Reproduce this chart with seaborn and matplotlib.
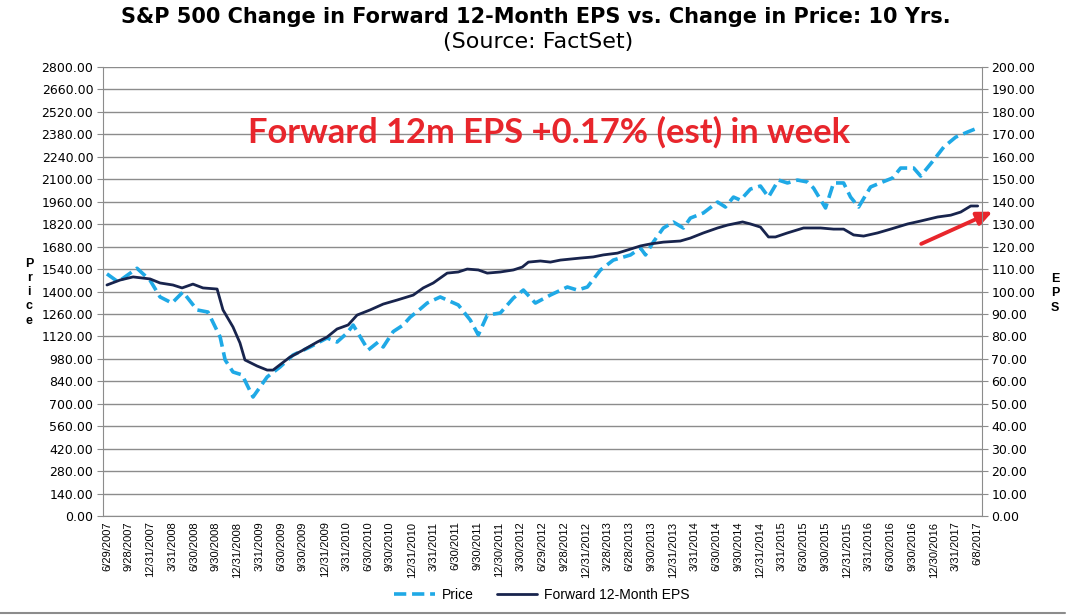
import matplotlib
matplotlib.use("Agg")
import matplotlib.pyplot as plt
import seaborn as sns
import numpy as np
import pandas as pd
from matplotlib.lines import Line2D
from matplotlib.ticker import FuncFormatter

# quarter-end labels on the category axis (one per quarter, equally spaced)
quarter_labels = [
    "6/29/2007", "9/28/2007", "12/31/2007", "3/31/2008", "6/30/2008", "9/30/2008",
    "12/31/2008", "3/31/2009", "6/30/2009", "9/30/2009", "12/31/2009", "3/31/2010",
    "6/30/2010", "9/30/2010", "12/31/2010", "3/31/2011", "6/30/2011", "9/30/2011",
    "12/30/2011", "3/30/2012", "6/29/2012", "9/28/2012", "12/31/2012", "3/28/2013",
    "6/28/2013", "9/30/2013", "12/31/2013", "3/31/2014", "6/30/2014", "9/30/2014",
    "12/31/2014", "3/31/2015", "6/30/2015", "9/30/2015", "12/31/2015", "3/31/2016",
    "6/30/2016", "9/30/2016", "12/30/2016", "3/31/2017", "6/8/2017",
]

# time in quarters since 6/29/2007, and S&P 500 price
price_t = [0.0, 0.51, 1.38, 1.98, 2.44, 2.99, 3.49, 4.14, 4.64, 5.20, 5.43, 5.79,
           6.21, 6.71, 7.36, 7.95, 8.55, 9.33, 10.11, 10.57, 11.03, 11.31, 12.00,
           12.46, 12.69, 13.15, 13.60, 13.93, 14.30, 14.71, 15.31, 16.14, 16.69,
           17.06, 17.47, 18.07, 18.67, 19.13, 19.68, 20.37, 21.15, 21.61, 22.07,
           22.67, 23.26, 24.05, 24.51, 24.74, 25.10, 25.56, 26.02, 26.48, 26.80,
           27.40, 28.05, 28.41, 28.78, 29.10, 29.56, 30.02, 30.39, 30.85, 31.26,
           31.72, 32.18, 32.46, 33.01, 33.38, 33.84, 34.16, 34.53, 35.08, 35.63,
           36.09, 36.46, 37.06, 37.38, 37.98, 38.44, 38.99, 39.54, 40.0]
price = [1510, 1460, 1545, 1470, 1366, 1328, 1397, 1285, 1272, 1116, 973, 898,
         880, 742, 867, 929, 1004, 1054, 1110, 1085, 1141, 1191, 1035,
         1085, 1054, 1150, 1190, 1240, 1280, 1328, 1366, 1316, 1222,
         1129, 1253, 1266, 1359, 1409, 1328, 1378, 1428, 1409, 1428,
         1534, 1596, 1628, 1671, 1628, 1709, 1796, 1833, 1796, 1858,
         1890, 1958, 1927, 1989, 1970, 2039, 2058, 1989, 2095, 2077,
         2095, 2083, 2045, 1921, 2077, 2077, 1989, 1927, 2052, 2083,
         2108, 2170, 2170, 2120, 2220, 2301, 2363, 2395, 2420]

# time in quarters since 6/29/2007, and forward 12-month EPS
eps_t = [0.0, 0.60, 1.20, 1.98, 2.44, 3.03, 3.45, 3.95, 4.41, 5.06, 5.33, 5.79,
         6.11, 6.34, 6.90, 7.36, 7.63, 8.41, 9.01, 9.66, 10.11, 10.57, 11.08,
         11.49, 12.09, 12.69, 13.33, 14.07, 14.53, 14.99, 15.63, 16.14, 16.55,
         17.06, 17.47, 18.07, 18.67, 19.08, 19.36, 19.91, 20.37, 20.83, 21.75,
         22.34, 22.80, 23.45, 24.05, 24.51, 24.97, 25.56, 26.34, 26.80, 27.40,
         28.05, 28.51, 29.20, 29.56, 30.02, 30.39, 30.71, 31.26, 32.00, 32.78,
         33.38, 33.84, 34.30, 34.76, 35.40, 36.00, 36.78, 37.38, 38.16, 38.76,
         39.22, 39.68, 40.0]
eps = [102.9, 105.1, 106.5, 105.6, 103.8, 102.9, 101.6, 103.3, 101.6, 101.1, 91.8, 84.2,
       77.1, 69.5, 66.8, 65.0, 65.0, 70.8, 73.9, 77.5, 79.7, 83.3, 85.1,
       89.5, 91.8, 94.4, 96.2, 98.4, 101.6, 103.8, 108.2, 108.7, 110.0,
       109.6, 108.2, 108.7, 109.6, 110.9, 113.1, 113.6, 113.1, 114.0, 114.9,
       115.4, 116.3, 117.1, 118.9, 120.3, 121.2, 122.0, 122.5, 123.8, 126.1,
       128.3, 129.6, 131.0, 130.1, 128.7, 124.3, 124.3, 126.1, 128.3, 128.3,
       127.8, 127.8, 125.2, 124.7, 126.1, 127.8, 130.1, 131.4, 133.2, 134.0,
       135.4, 138.1, 138.1]

PRICE_BLUE = "#1fa9e6"
EPS_NAVY = "#18244d"
GRID_GRAY = "#8c8c8c"
RED = "#e8262c"

sns.set_style("white")
plt.rcParams["font.family"] = ["Liberation Sans", "DejaVu Sans"]
plt.rcParams["text.color"] = "black"
plt.rcParams["xtick.color"] = "black"
plt.rcParams["ytick.color"] = "black"

fig = plt.figure(figsize=(10.8, 6.15), dpi=100)
ax = fig.add_axes([0.0954, 0.161, 0.8135, 0.730])
ax2 = ax.twinx()

price_df = pd.DataFrame({"t": price_t, "value": price})
eps_df = pd.DataFrame({"t": eps_t, "value": eps})

sns.lineplot(data=price_df, x="t", y="value", ax=ax, color=PRICE_BLUE,
             linewidth=2.6, legend=False)
ax.lines[-1].set_linestyle((0, (3.4, 1.6)))
sns.lineplot(data=eps_df, x="t", y="value", ax=ax2, color=EPS_NAVY,
             linewidth=2.0, legend=False)

tick_font = ["DejaVu Sans"]

# left axis: price
ax.set_ylim(0, 2800)
ax.set_yticks(np.arange(0, 2801, 140))
ax.yaxis.set_major_formatter(FuncFormatter(lambda v, p: f"{v:.2f}"))
ax.yaxis.grid(True, color=GRID_GRAY, linewidth=1)
ax.xaxis.grid(False)
ax.set_xlim(-0.18, 40.18)
ax.set_xticks(range(len(quarter_labels)))
ax.set_xticklabels(quarter_labels, rotation=90, fontsize=8)
ax.set_xlabel("")
ax.set_ylabel("")
ax.tick_params(axis="x", length=0, pad=4)
ax.tick_params(axis="y", length=4, color=GRID_GRAY, labelsize=9, pad=3)
for lbl in ax.get_yticklabels():
    lbl.set_family(tick_font)

# right axis: EPS
ax2.set_ylim(0, 200)
ax2.set_yticks(np.arange(0, 201, 10))
ax2.yaxis.set_major_formatter(FuncFormatter(lambda v, p: f"{v:.2f}"))
ax2.set_ylabel("")
ax2.tick_params(axis="y", length=4, color=GRID_GRAY, labelsize=9, pad=3)
ax2.grid(False)
for lbl in ax2.get_yticklabels():
    lbl.set_family(tick_font)

for name, sp in ax.spines.items():
    sp.set_visible(name in ("left", "bottom"))
    sp.set_color(GRID_GRAY)
for name, sp in ax2.spines.items():
    sp.set_visible(name == "right")
    sp.set_color(GRID_GRAY)

# titles
fig.text(0.496, 0.972, "S&P 500 Change in Forward 12-Month EPS vs. Change in Price: 10 Yrs.",
         ha="center", va="center", fontsize=15, fontweight="bold",
         family=["DejaVu Sans"])
fig.text(0.498, 0.932, "(Source: FactSet)", ha="center", va="center", fontsize=16,
         family=["DejaVu Sans"])

# stacked axis titles
fig.text(0.027, 0.525, "P\nr\ni\nc\ne", ha="center", va="center", fontsize=9,
         fontweight="bold", linespacing=1.25)
fig.text(0.977, 0.523, "E\nP\nS", ha="center", va="center", fontsize=9,
         fontweight="bold", linespacing=1.25)

# annotation
ax.text(0.508, 0.855, "Forward 12m EPS +0.17% (est) in week", transform=ax.transAxes,
        ha="center", va="center", fontsize=24.8, fontweight="bold", color=RED,
        family=["Lato", "DejaVu Sans"])
ax.annotate("", xy=(40.8, 1905), xytext=(37.29, 1690),
            arrowprops=dict(arrowstyle="-|>,head_length=0.9,head_width=0.4",
                            color=RED, lw=2.8),
            annotation_clip=False)

handles = [
    Line2D([], [], color=PRICE_BLUE, lw=2.6, linestyle=(0, (3.4, 1.6))),
    Line2D([], [], color=EPS_NAVY, lw=2.0),
]
fig.legend(handles, ["Price", "Forward 12-Month EPS"], loc="center",
           bbox_to_anchor=(0.502, 0.033), ncol=2, frameon=False, fontsize=10,
           handlelength=2.9, handletextpad=0.5, columnspacing=1.7)

# chart-area border at the bottom
fig.add_artist(Line2D([0, 0.986], [0.004, 0.004], transform=fig.transFigure,
                      color=GRID_GRAY, lw=1.5))

fig.savefig("out.png", dpi=100)
